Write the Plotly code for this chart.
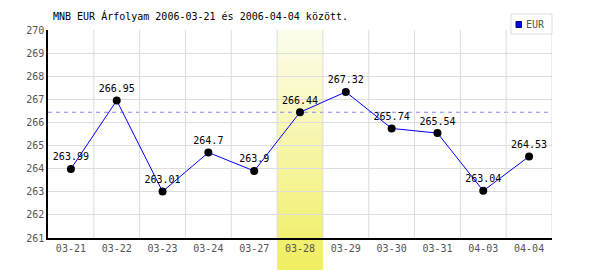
import plotly.graph_objects as go

dates = ["03-21", "03-22", "03-23", "03-24", "03-27", "03-28", "03-29", "03-30", "03-31", "04-03", "04-04"]
eur = [263.99, 266.95, 263.01, 264.7, 263.9, 266.44, 267.32, 265.74, 265.54, 263.04, 264.53]
highlight = "03-28"
ref_value = 266.44
title = "MNB EUR Árfolyam 2006-03-21 és 2006-04-04 között."
series_name = "EUR"

FONT = "DejaVu Sans Mono"
PW, PH = 504, 208  # plot area pixels

def px_x(p):
    return (p - 48) / PW

def px_y(p):
    return (238 - p) / PH

fig = go.Figure()
fig.add_trace(go.Scatter(
    x=dates, y=eur, mode="lines+markers+text",
    text=[f"{v:g}" for v in eur], textposition="top center",
    textfont=dict(family=FONT, size=10, color="black"),
    line=dict(color="#0000ff", width=1),
    marker=dict(color="black", size=8),
    showlegend=False, cliponaxis=False,
))

# gradient highlight band
hi = dates.index(highlight)
n = 24
y_bot = -32 / 208
top = (253, 253, 236)
bot = (240, 238, 98)
for i in range(n):
    t = i / (n - 1)
    c = tuple(round(top[k] + (bot[k] - top[k]) * t) for k in range(3))
    y1 = 1 - (1 - y_bot) * i / n
    y0 = 1 - (1 - y_bot) * (i + 1) / n
    fig.add_shape(type="rect", xref="x", yref="paper", x0=hi - 0.5, x1=hi + 0.5,
                  y0=y0, y1=y1 + 0.002, fillcolor="rgb(%d,%d,%d)" % c, line=dict(width=0),
                  layer="between")

fig.add_shape(type="line", xref="paper", yref="y", x0=0, x1=0.996, y0=ref_value, y1=ref_value,
              line=dict(color="#8888ee", width=1, dash="4px,4px"), layer="between")

# vertical gridlines at category boundaries
for i in range(1, len(dates) + 1):
    fig.add_shape(type="line", xref="x", yref="paper", x0=i - 0.5, x1=i - 0.5, y0=0, y1=1,
                  line=dict(color="#dddddd", width=1), layer="below")

# legend box
fig.add_shape(type="rect", xref="paper", yref="paper", x0=px_x(511), x1=px_x(552),
              y0=px_y(34), y1=px_y(14), line=dict(color="#dddddd", width=1), fillcolor="white")
fig.add_shape(type="rect", xref="paper", yref="paper", x0=px_x(516), x1=px_x(521.5),
              y0=px_y(27.5), y1=px_y(21.5), line=dict(color="#000066", width=1), fillcolor="#0000ff")
fig.add_annotation(text=series_name, xref="paper", yref="paper", x=px_x(524), y=px_y(24.5),
                   xanchor="left", yanchor="middle", showarrow=False,
                   font=dict(family=FONT, size=10, color="#555555"))

fig.update_layout(
    width=600, height=270,
    margin=dict(l=48, r=48, t=30, b=32),
    paper_bgcolor="white", plot_bgcolor="white",
    title=dict(text=title, x=53 / 600, xanchor="left", y=1 - 16 / 270, yanchor="middle",
               font=dict(family=FONT, size=10, color="black")),
    font=dict(family=FONT, size=10, color="#555555"),
    xaxis=dict(type="category", range=[-0.5, len(dates) - 0.5], showgrid=False,
               showline=True, linecolor="black", linewidth=1.5, ticks="", ticklen=0,
               tickfont=dict(family=FONT, size=10, color="#555555")),
    yaxis=dict(range=[261, 270], dtick=1, showgrid=True, gridcolor="#dddddd", gridwidth=1,
               showline=True, linecolor="black", linewidth=1.5, zeroline=False,
               ticks="", tickfont=dict(family=FONT, size=10, color="#555555")),
    showlegend=False,
)

fig.write_html("out.html")
